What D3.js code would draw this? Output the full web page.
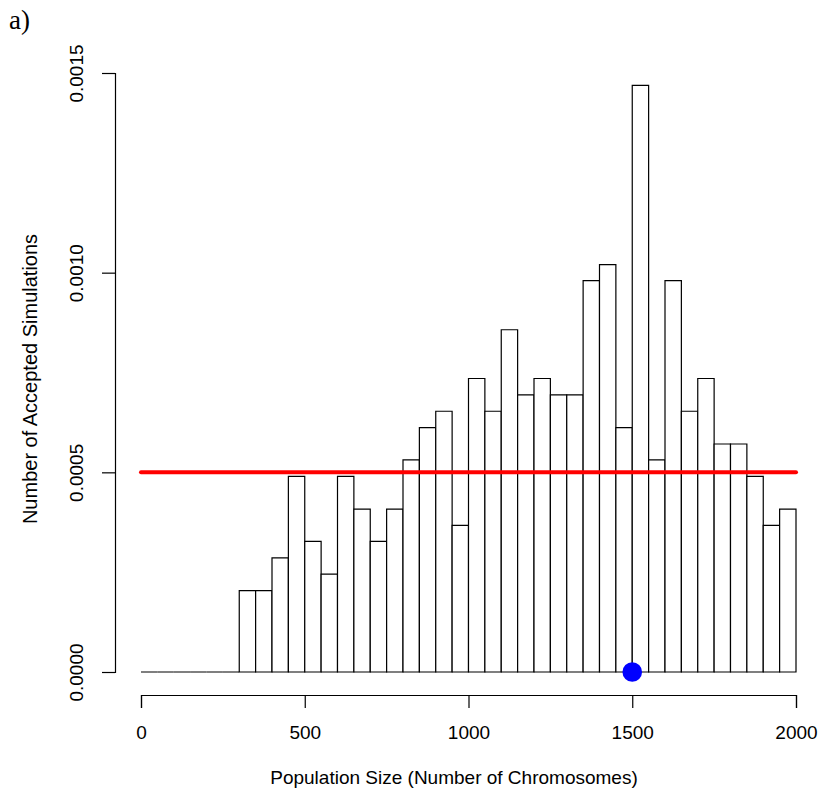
<!DOCTYPE html>
<html>
<head>
<meta charset="utf-8">
<script src="https://cdn.jsdelivr.net/npm/d3@7"></script>
<style>
  body { margin: 0; background: #fff; }
  text { font-family: "Liberation Sans", Arial, Helvetica, sans-serif; fill: #000; }
</style>
</head>
<body>
<svg id="chart"></svg>
<script>
// histogram bins (lower edges) and their densities
const binStarts = [0, 50, 100, 150, 200, 250, 300, 350, 400, 450,
  500, 550, 600, 650, 700, 750, 800, 850, 900, 950,
  1000, 1050, 1100, 1150, 1200, 1250, 1300, 1350, 1400, 1450,
  1500, 1550, 1600, 1650, 1700, 1750, 1800, 1850, 1900, 1950];
const binWidth = 50;
const densities = [0, 0, 0, 0, 0, 0, 0.000204, 0.000204, 0.000286, 0.000490,
  0.000327, 0.000245, 0.000490, 0.000408, 0.000327, 0.000408, 0.000531, 0.000612, 0.000653, 0.000367,
  0.000735, 0.000653, 0.000857, 0.000694, 0.000735, 0.000694, 0.000694, 0.000980, 0.001020, 0.000612,
  0.001469, 0.000531, 0.000980, 0.000653, 0.000735, 0.000571, 0.000571, 0.000490, 0.000367, 0.000408];

const xTicks = [0, 500, 1000, 1500, 2000];
const yTicks = [0, 0.0005, 0.0010, 0.0015];
const priorDensity = 0.0005;   // red line
const trueValue = 1500;        // blue point

const width = 820, height = 800;

const svg = d3.select("#chart").attr("width", width).attr("height", height);

const x = d3.scaleLinear().domain([0, 2000]).range([141, 796]);
const y = d3.scaleLinear().domain([0, 0.0015]).range([672, 73]);

// bars (drawn as paths so that empty bins still show as a flat line)
svg.append("g")
  .selectAll("path")
  .data(binStarts.map((b, i) => ({ x0: b, x1: b + binWidth, v: densities[i] })))
  .join("path")
  .attr("d", d => `M${x(d.x0)},${y(0)}V${y(d.v)}H${x(d.x1)}V${y(0)}Z`)
  .attr("fill", "white")
  .attr("stroke", "#000")
  .attr("stroke-width", 1.2);

// prior line
svg.append("line")
  .attr("x1", x(0)).attr("x2", x(2000))
  .attr("y1", y(priorDensity)).attr("y2", y(priorDensity))
  .attr("stroke", "#ff0000")
  .attr("stroke-width", 4)
  .attr("stroke-linecap", "round");

// true value
svg.append("circle")
  .attr("cx", x(trueValue)).attr("cy", y(0))
  .attr("r", 9.8)
  .attr("fill", "#0000ff");

// x axis
const xAxis = svg.append("g")
  .attr("transform", "translate(0,695)")
  .call(d3.axisBottom(x).tickValues(xTicks).tickSize(13).tickPadding(18).tickFormat(d3.format("d")));
xAxis.selectAll("text").style("font-size", "19px").style("font-family", null);
xAxis.selectAll("path, line").attr("stroke", "#000").attr("stroke-width", 1.2);

// y axis
const yAxis = svg.append("g")
  .attr("transform", "translate(115,0)")
  .call(d3.axisLeft(y).tickValues(yTicks).tickSize(13).tickFormat(d3.format(".4f")));
yAxis.selectAll("text")
  .style("font-size", "19px")
  .style("font-family", null)
  .attr("transform", "rotate(-90)")
  .attr("text-anchor", "middle")
  .attr("x", 0)
  .attr("y", -32)
  .attr("dy", null);
yAxis.selectAll("path, line").attr("stroke", "#000").attr("stroke-width", 1.2);

// axis titles
svg.append("text")
  .attr("x", 454).attr("y", 784)
  .attr("text-anchor", "middle")
  .style("font-size", "19px")
  .text("Population Size (Number of Chromosomes)");

svg.append("text")
  .attr("transform", `translate(37,379) rotate(-90)`)
  .attr("text-anchor", "middle")
  .style("font-size", "20px")
  .text("Number of Accepted Simulations");

// panel label
svg.append("text")
  .attr("x", 9).attr("y", 29)
  .style("font-family", "'Liberation Serif', 'Times New Roman', serif")
  .style("font-size", "27px")
  .text("a)");
</script>
</body>
</html>
